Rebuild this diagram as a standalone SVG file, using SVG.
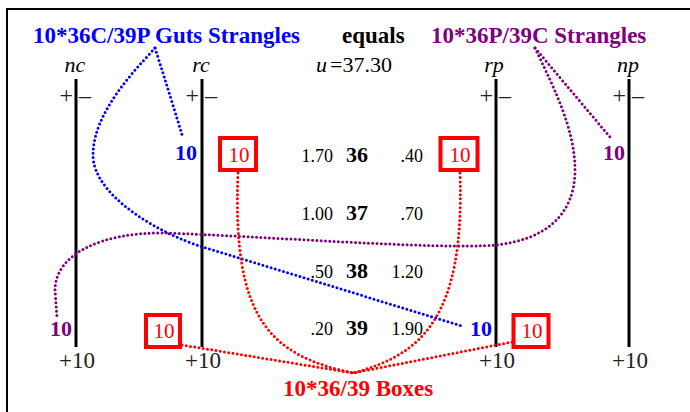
<svg xmlns="http://www.w3.org/2000/svg" width="690" height="412" viewBox="0 0 690 412">
<style>
text{font-family:"Liberation Serif","Times New Roman",serif;fill:#000}
.b{font-weight:bold}
.hd{font-size:23px;font-weight:bold}
.it{font-style:italic;font-size:22px}
.pm{font-size:24px;fill:#222}
.p10{font-size:23px;fill:#222}
.num{font-size:18px}
.big{font-size:22px;font-weight:bold}
.ax{stroke:#000;stroke-width:3}
.box{fill:#fff;stroke:#ff0000;stroke-width:4}
.rt{font-size:21px;fill:#ff0000}
.dot{fill:none;stroke-width:3;stroke-linecap:round;stroke-dasharray:0 4.3}
.blue{fill:#0000ff}.purple{fill:#800080}.red{fill:#ff0000}
</style>
<rect x="7" y="9" width="700" height="420" fill="#fff" stroke="#000" stroke-width="2"/>

<g id="headers">
<text class="hd blue" x="33" y="43">10*36C/39P Guts Strangles</text>
<text class="hd" x="342" y="43">equals</text>
<text class="hd purple" x="431" y="43">10*36P/39C Strangles</text>
<text x="316" y="72" style="font-size:22px"><tspan font-style="italic">u</tspan><tspan dx="3">=37.30</tspan></text>
</g>

<g id="axis-nc">
<text class="it" x="75" y="72" text-anchor="middle">nc</text>
<line class="ax" x1="76" y1="79" x2="76" y2="347"/>
<text class="pm" x="73" y="103" text-anchor="end">+</text>
<text class="pm" x="79" y="103">–</text>
<text class="p10" x="77" y="368" text-anchor="middle">+10</text>
</g>
<g id="axis-rc">
<text class="it" x="201" y="72" text-anchor="middle">rc</text>
<line class="ax" x1="202" y1="79" x2="202" y2="347"/>
<text class="pm" x="199" y="103" text-anchor="end">+</text>
<text class="pm" x="205" y="103">–</text>
<text class="p10" x="203" y="368" text-anchor="middle">+10</text>
</g>
<g id="axis-rp">
<text class="it" x="494" y="72" text-anchor="middle">rp</text>
<line class="ax" x1="496" y1="79" x2="496" y2="347"/>
<text class="pm" x="493" y="103" text-anchor="end">+</text>
<text class="pm" x="499" y="103">–</text>
<text class="p10" x="497" y="368" text-anchor="middle">+10</text>
</g>
<g id="axis-np">
<text class="it" x="628" y="72" text-anchor="middle">np</text>
<line class="ax" x1="629" y1="79" x2="629" y2="347"/>
<text class="pm" x="626" y="103" text-anchor="end">+</text>
<text class="pm" x="632" y="103">–</text>
<text class="p10" x="630" y="368" text-anchor="middle">+10</text>
</g>

<g id="table">
<text class="num" x="333" y="162" text-anchor="end">1.70</text>
<text class="big" x="357" y="162" text-anchor="middle">36</text>
<text class="num" x="423" y="162" text-anchor="end">.40</text>
<text class="num" x="333" y="220" text-anchor="end">1.00</text>
<text class="big" x="357" y="220" text-anchor="middle">37</text>
<text class="num" x="423" y="220" text-anchor="end">.70</text>
<text class="num" x="333" y="278" text-anchor="end">.50</text>
<text class="big" x="357" y="278" text-anchor="middle">38</text>
<text class="num" x="423" y="278" text-anchor="end">1.20</text>
<text class="num" x="333" y="335" text-anchor="end">.20</text>
<text class="big" x="357" y="335" text-anchor="middle">39</text>
<text class="num" x="423" y="335" text-anchor="end">1.90</text>
</g>

<g id="connectors">
<path class="dot" stroke="#0000ff" d="M155,48 Q170,95 183,138"/>
<path class="dot" stroke="#0000ff" d="M155,48 C130,75 93,115 93,155 C93,195 158,233.3 203,247 L462,326"/>
<path class="dot" stroke="#800080" d="M535,48 L610,137"/>
<path class="dot" stroke="#800080" d="M535,48 C555,90 575,130 575,170 C575,215 545,240 495,245 C440,250 260,236 165,233 C100,232 55,255 55,290 L57,318"/>
<path class="dot" stroke="#ff0000" d="M238,173 C232,320 270,355 353,373"/>
<path class="dot" stroke="#ff0000" d="M460,173 C465,320 420,355 353,373"/>
<path class="dot" stroke="#ff0000" d="M182,345 L353,373"/>
<path class="dot" stroke="#ff0000" d="M512,342 L353,373"/>
</g>

<g id="guts-top"><text class="big blue" x="186" y="160" text-anchor="middle">10</text></g>
<g id="guts-bottom"><text class="big blue" x="481" y="336" text-anchor="middle">10</text></g>
<g id="strangle-top"><text class="big purple" x="614" y="160" text-anchor="middle">10</text></g>
<g id="strangle-bottom"><text class="big purple" x="61" y="336" text-anchor="middle">10</text></g>

<g id="box-rc-36"><rect class="box" x="220" y="138" width="36" height="32"/><text class="rt" x="239" y="162" text-anchor="middle">10</text></g>
<g id="box-rp-36"><rect class="box" x="440.5" y="138" width="37" height="32"/><text class="rt" x="460" y="162" text-anchor="middle">10</text></g>
<g id="box-rc-39"><rect class="box" x="146" y="315" width="34" height="32"/><text class="rt" x="164" y="338" text-anchor="middle">10</text></g>
<g id="box-rp-39"><rect class="box" x="513.5" y="315" width="35" height="32"/><text class="rt" x="532" y="338" text-anchor="middle">10</text></g>

<g id="boxes-label"><text class="hd red" x="283" y="396">10*36/39 Boxes</text></g>
</svg>
